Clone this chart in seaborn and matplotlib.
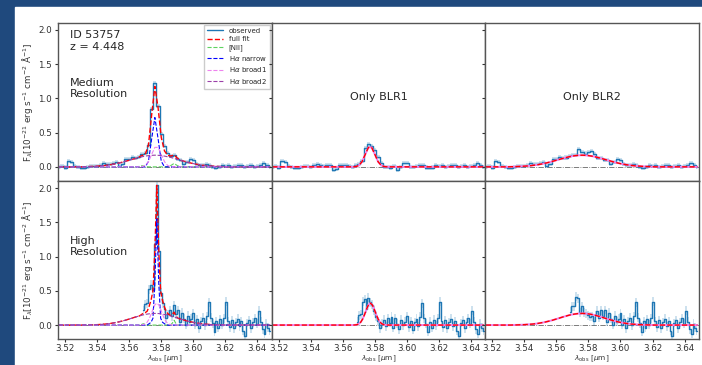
import numpy as np
import matplotlib
matplotlib.use("Agg")
import matplotlib.pyplot as plt
from matplotlib.patches import Rectangle
import seaborn as sns

# wavelength grids in micron (one value per detector pixel)
wl_med = np.round(3.516 + 0.002 * np.arange(67), 4)
wl_hi = np.round(3.516 + 0.0012 * np.arange(111), 4)
hi_first = 44  # high-res data start at 3.5688 um

# fitted components: (first wavelength, values)
narrow_med = (3.572, [0.08, 0.41, 0.72, 0.41, 0.08])
broad1_med = (3.568, [0.003, 0.020, 0.075, 0.182, 0.284, 0.284, 0.182, 0.075, 0.020, 0.003])
broad2_med = (3.532, [0.002, 0.003, 0.005, 0.007, 0.010, 0.013, 0.017, 0.023, 0.030, 0.038,
                      0.047, 0.058, 0.070, 0.083, 0.096, 0.110, 0.123, 0.136, 0.147, 0.157,
                      0.164, 0.168, 0.170, 0.168, 0.164, 0.157, 0.147, 0.136, 0.123, 0.110,
                      0.096, 0.083, 0.070, 0.058, 0.047, 0.038, 0.030, 0.023, 0.017, 0.013,
                      0.010, 0.007, 0.005, 0.003, 0.002])
nii_med = (3.566, [0.005, 0.016, 0.006, 0, 0, 0, 0, 0, 0, 0, 0.02, 0.05, 0.018])

narrow_hi = (3.5724, [0.02, 0.04, 0.10, 0.62, 1.55, 0.62, 0.10, 0.04, 0.02])
broad1_hi = (3.5676, [0.002, 0.006, 0.018, 0.043, 0.089, 0.156, 0.232, 0.295, 0.32,
                      0.295, 0.232, 0.156, 0.089, 0.043, 0.018, 0.006, 0.002])
broad2_hi = (3.5328, [0.001, 0.002, 0.002, 0.003, 0.004, 0.005, 0.006, 0.008, 0.010, 0.012,
                      0.014, 0.017, 0.020, 0.024, 0.029, 0.034, 0.039, 0.045, 0.052, 0.059,
                      0.066, 0.074, 0.083, 0.091, 0.100, 0.109, 0.118, 0.126, 0.134, 0.142,
                      0.149, 0.155, 0.160, 0.164, 0.168, 0.169, 0.170, 0.169, 0.168, 0.164,
                      0.160, 0.155, 0.149, 0.142, 0.134, 0.126, 0.118, 0.109, 0.100, 0.091,
                      0.083, 0.074, 0.066, 0.059, 0.052, 0.045, 0.039, 0.034, 0.029, 0.024,
                      0.020, 0.017, 0.014, 0.012, 0.010, 0.008, 0.006, 0.005, 0.004, 0.003,
                      0.002, 0.002, 0.001])
nii_hi = (3.5676, [0.008, 0.02, 0.008, 0, 0, 0, 0, 0, 0, 0, 0, 0, 0, 0, 0, 0, 0.025, 0.07, 0.02])

# residual after removing narrow, [NII] and BLR2 ("Only BLR1" panels)
resid_blr1_med = [0.00, 0.01, -0.01, 0.08, 0.07, 0.01, 0.00, -0.02, -0.02, 0.00,
                  0.01, 0.01, 0.00, 0.02, 0.04, 0.02, 0.01, 0.02, 0.03, -0.05,
                  -0.03, 0.03, 0.02, 0.03, 0.01, 0.00, 0.02, 0.04, 0.08, 0.27,
                  0.33, 0.31, 0.24, 0.15, 0.06, 0.00, 0.00, -0.01, 0.01, -0.04,
                  0.00, 0.06, 0.05, 0.00, 0.00, 0.01, 0.03, 0.02, -0.01, -0.02,
                  -0.01, 0.02, 0.01, 0.02, 0.00, 0.01, 0.02, 0.02, 0.00, 0.01,
                  0.02, 0.00, 0.01, 0.02, 0.06, 0.02, 0.00]
resid_blr1_hi = [0.05, 0.14, 0.16, 0.34, 0.38, 0.24, 0.40, 0.33, 0.30, 0.21,
                 0.12, 0.06, -0.05, 0.02, 0.08, -0.02, 0.10, 0.03, 0.12, -0.04,
                 0.10, 0.02, -0.06, 0.08, 0.00, 0.05, 0.13, -0.03, 0.06, -0.07,
                 0.04, 0.09, -0.02, 0.12, 0.32, 0.10, 0.02, -0.10, 0.05, -0.04,
                 0.08, 0.00, 0.10, 0.34, 0.06, -0.03, 0.07, -0.05, 0.04, 0.09,
                 -0.02, 0.06, -0.08, -0.16, 0.03, 0.07, -0.05, 0.04, 0.10, 0.02,
                 0.21, 0.05, -0.06, -0.13, 0.02, -0.04, -0.08]
err_med = 0.03
err_hi = 0.065


def place(grid, comp):
    start, vals = comp
    out = np.zeros(len(grid))
    i0 = int(np.argmin(np.abs(grid - start)))
    out[i0:i0 + len(vals)] = vals
    return out


def build(grid, narrow, broad1, broad2, nii, resid, first):
    n = place(grid, narrow)
    b1 = place(grid, broad1)
    b2 = place(grid, broad2)
    ni = place(grid, nii)
    r1 = np.array(resid)
    obs = r1 + (n + b2 + ni)[first:]
    r2 = obs - (n + b1 + ni)[first:]
    return dict(n=n, b1=b1, b2=b2, nii=ni, fit=n + b1 + b2 + ni,
                x=grid[first:], obs=obs, r1=r1, r2=r2)


rows = [build(wl_med, narrow_med, broad1_med, broad2_med, nii_med, resid_blr1_med, 0),
        build(wl_hi, narrow_hi, broad1_hi, broad2_hi, nii_hi, resid_blr1_hi, hi_first)]
grids = [wl_med, wl_hi]
errs = [err_med, err_hi]

sns.set_style("ticks")
plt.rcParams["font.family"] = ["DejaVu Sans"]

fig, axes = plt.subplots(2, 3, figsize=(7.02, 3.65), dpi=100, sharex=True, sharey=True,
                         facecolor="#1f497d")
fig.add_artist(Rectangle((15 / 702, 0), 1, 1 - 7 / 365, transform=fig.transFigure,
                         color="white", zorder=-10))
fig.subplots_adjust(left=0.083, right=0.9957, top=0.937, bottom=0.07, wspace=0, hspace=0)

obs_c = "#1f77b4"
ylab = r"F$_\lambda$[10$^{-21}$ erg s$^{-1}$ cm$^{-2}$ Å$^{-1}$]"


def observed(ax, x, y, err, label=None):
    ax.fill_between(x, y - err, y + err, step="mid", color=obs_c, alpha=0.22, lw=0)
    sns.lineplot(x=x, y=y, ax=ax, color=obs_c, lw=1, drawstyle="steps-mid",
                 errorbar=None, legend=False, label=label)


for r, d in enumerate(rows):
    g = grids[r]
    err = errs[r]
    # full model panel
    ax = axes[r, 0]
    observed(ax, d["x"], d["obs"], err, "observed")
    ax.plot(g, d["fit"], color="red", lw=1, ls="--", label="full fit")
    ax.plot(g, d["nii"], color="#5fd35f", lw=0.8, ls="--", label="[NII]")
    ax.plot(g, d["n"], color="blue", lw=0.8, ls="--", label=r"H$\alpha$ narrow")
    ax.plot(g, d["b1"], color="violet", lw=0.8, ls="--", label=r"H$\alpha$ broad1")
    ax.plot(g, d["b2"], color="#9b3fa8", lw=0.8, ls="--", label=r"H$\alpha$ broad2")

    # single broad component panels
    for c, (res, comp) in enumerate([(d["r1"], d["b1"]), (d["r2"], d["b2"])], start=1):
        ax = axes[r, c]
        observed(ax, d["x"], res, err)
        ax.plot(g, comp, color="violet", lw=1.4)
        ax.plot(g, comp, color="red", lw=1, ls="--")

for ax in axes.flat:
    ax.axhline(0, color="k", ls="-.", lw=0.6, alpha=0.6, zorder=0)
    ax.set_xlim(3.5157, 3.649)
    ax.set_ylim(-0.21, 2.1)
    ax.set_xticks([3.52, 3.54, 3.56, 3.58, 3.60, 3.62, 3.64])
    ax.set_yticks([0.0, 0.5, 1.0, 1.5, 2.0])
    ax.tick_params(labelsize=6.3, length=2, width=0.8, colors="#333333")
    ax.tick_params(axis="x", pad=1)
    ax.tick_params(axis="y", pad=2.5)
    for s in ax.spines.values():
        s.set_visible(True)
        s.set_color("#555555")
        s.set_linewidth(1)
    ax.set_xlabel("")
    ax.set_ylabel("")

axes[0, 0].xaxis.set_major_formatter(plt.FormatStrFormatter("%.2f"))
for r in range(2):
    axes[r, 0].set_ylabel(ylab, fontsize=6.3, color="#333333", labelpad=2)
for c in range(3):
    axes[1, c].set_xlabel(r"$\lambda_{\rm obs}$ [$\mu$m]", fontsize=5.3, color="#333333")
    axes[1, c].xaxis.set_label_coords(0.5, -0.088)

axes[0, 0].legend(loc="upper right", fontsize=5, handlelength=2.3, labelspacing=0.35,
                  borderpad=0.4, framealpha=1, fancybox=False, edgecolor="#cccccc",
                  borderaxespad=0.3)
axes[0, 0].text(0.055, 0.955, "ID 53757\nz = 4.448", transform=axes[0, 0].transAxes,
                fontsize=8, va="top", ha="left")
axes[0, 0].text(0.055, 0.655, "Medium\nResolution", transform=axes[0, 0].transAxes,
                fontsize=8, va="top", ha="left")
axes[1, 0].text(0.055, 0.655, "High\nResolution", transform=axes[1, 0].transAxes,
                fontsize=8, va="top", ha="left")
axes[0, 1].text(0.5, 0.53, "Only BLR1", transform=axes[0, 1].transAxes,
                fontsize=8, va="center", ha="center")
axes[0, 2].text(0.5, 0.53, "Only BLR2", transform=axes[0, 2].transAxes,
                fontsize=8, va="center", ha="center")

fig.savefig("out.png", dpi=100, facecolor=fig.get_facecolor())
